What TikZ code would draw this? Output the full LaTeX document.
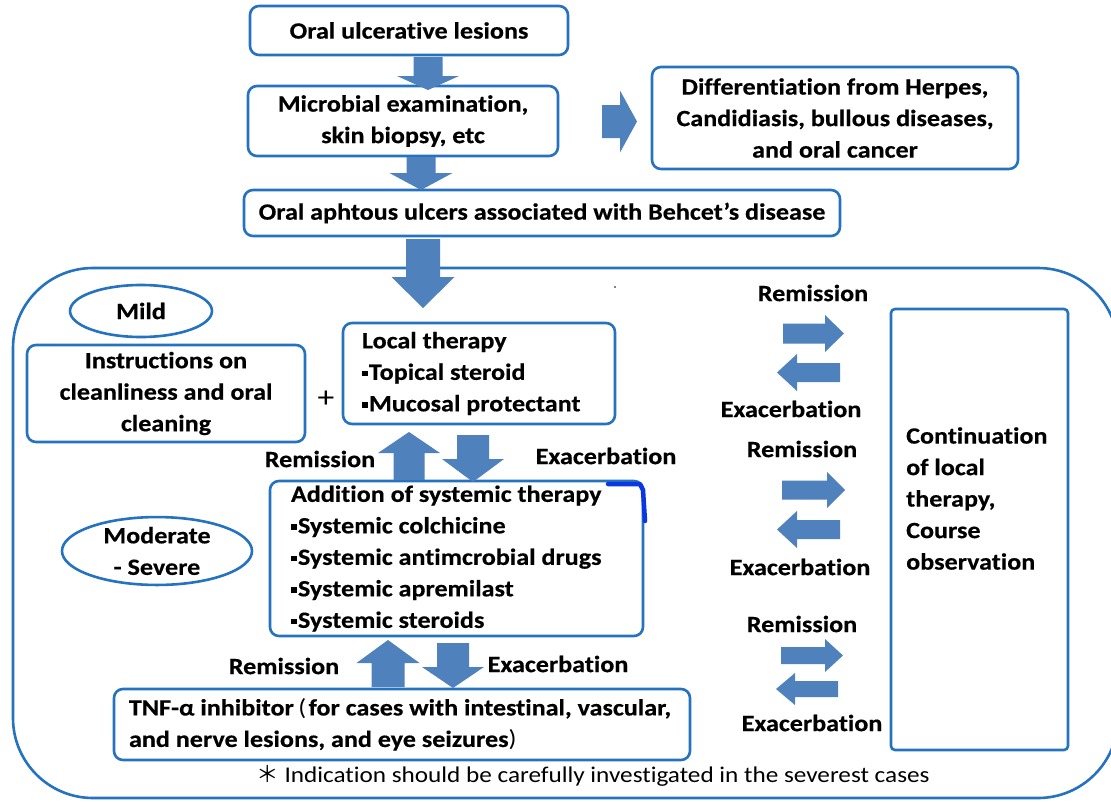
\documentclass[tikz,border=0pt]{standalone}
\usepackage{fontspec}
\setmainfont{Carlito}[FakeStretch=1.12, Ligatures=NoCommon, BoldFeatures={FakeBold=0.4}]
\newfontfamily\cjk{Noto Sans CJK JP}
\usetikzlibrary{shapes.geometric}
\definecolor{bord}{RGB}{36,114,192}
\definecolor{arr}{RGB}{79,129,189}
\definecolor{penmark}{RGB}{10,55,225}
\newcommand\fs{\fontsize{23.3}{31.5}\selectfont}
\newcommand\sqb{\raisebox{0.3ex}{\rule{0.24em}{0.24em}}\hspace{0.06em}}
% vertical block arrow: cx, y tail, y head base, y tip, shaft half width, head half width
\newcommand\vArrow[6]{\fill[arr] ({#1-#5},#2) -- ({#1+#5},#2) -- ({#1+#5},#3) -- ({#1+#6},#3) -- (#1,#4) -- ({#1-#6},#3) -- ({#1-#5},#3) -- cycle;}
% horizontal block arrow: cy, x tail, x head base, x tip, shaft half width, head half width
\newcommand\hArrow[6]{\fill[arr] (#2,{#1-#5}) -- (#2,{#1+#5}) -- (#3,{#1+#5}) -- (#3,{#1+#6}) -- (#4,#1) -- (#3,{#1-#6}) -- (#3,{#1-#5}) -- cycle;}
\tikzset{
  box/.style={draw=bord, line width=2.6pt, rounded corners=9pt, fill=white,
    font=\bfseries\fs, align=center, inner sep=0pt},
  lbox/.style={box, align=flush left},
  oval/.style={ellipse, draw=bord, line width=2.6pt, fill=white,
    font=\bfseries\fs, align=center, inner sep=0pt},
  lbl/.style={font=\bfseries\fs, inner sep=0pt},
}
\begin{document}
\begin{tikzpicture}[x=1pt,y=-1pt]
\useasboundingbox (0,0) rectangle (1111,801);
\clip (0,0) rectangle (1111,801);
\fill[white] (0,0) rectangle (1111,801);
% container
\draw[bord, line width=2.6pt, rounded corners=80pt] (13,268) rectangle (1118,798);
% top boxes
\node[box, minimum width=318pt, minimum height=49pt] (b1) at (409,30.5) {Oral ulcerative lesions};
\node[box, minimum width=310pt, minimum height=70pt] (b2) at (403,121) {Microbial examination,\\skin biopsy, etc};
\node[box, minimum width=596pt, minimum height=46pt] (b3) at (542,213) {Oral aphtous ulcers associated with Behcet’s disease};
\node[box, minimum width=366pt, minimum height=102pt] (b4) at (835,118) {Differentiation from Herpes,\\Candidiasis, bullous diseases,\\and oral cancer};
% mild
\node[oval, minimum width=142pt, minimum height=52pt] (mild) at (141,311) {Mild};
\node[box, minimum width=278pt, minimum height=97pt] (instr) at (166,393.5) {Instructions on\\cleanliness and oral\\cleaning};
\node[font=\fontsize{30}{30}\selectfont, inner sep=0pt] (plus) at (326,399) {+};
\node[lbox, text width=234pt, inner xsep=19pt, minimum height=101pt] (local) at (479,373.5) {Local therapy\\\sqb Topical steroid\\\sqb Mucosal protectant};
% moderate
\node[oval, minimum width=190pt, minimum height=67pt] (mod) at (157,551) {Moderate\\- Severe};
\node[lbox, text width=331pt, inner xsep=21pt, minimum height=155pt] (sys) at (456.5,558.5) {Addition of systemic therapy\\\sqb Systemic colchicine\\\sqb Systemic antimcrobial drugs\\\sqb Systemic apremilast\\\sqb Systemic steroids};
\node[lbox, text width=546pt, inner xsep=15pt, minimum height=71pt] (tnf) at (402,724.5) {TNF-α inhibitor{\mdseries\kern0.2em(}\kern0.1em for cases with intestinal, vascular,\\and nerve lesions, and eye seizures{\mdseries )}};
\node[font=\fontsize{22.5}{24}\selectfont, inner sep=0pt] (note) at (593,776) {{\cjk ＊}\kern0.25em Indication should be carefully investigated in the severest cases};
% continuation box
\node[draw=bord, line width=2.6pt, rounded corners=4pt, minimum width=177pt, minimum height=441pt, inner sep=0pt] (cont) at (979.5,529.5) {};
\node[lbl, align=flush left, anchor=west] (contt) at (906,498.5) {Continuation\\of local\\therapy,\\Course\\observation};
% pen mark
\draw[penmark, line width=4.5pt, line cap=round, line join=round] (608,484) -- (640,484) -- (643,490) -- (645,521);
\fill[black] (615,287) circle (0.8pt);
% labels
\node[lbl] (r1) at (320,459) {Remission};
\node[lbl] (e1) at (606,456) {Exacerbation};
\node[lbl] (r2) at (284,666) {Remission};
\node[lbl] (e2) at (558,664) {Exacerbation};
\node[lbl] (rr1) at (813,293) {Remission};
\node[lbl] (re1) at (791,409) {Exacerbation};
\node[lbl] (rr2) at (802,449) {Remission};
\node[lbl] (re2) at (800,567) {Exacerbation};
\node[lbl] (rr3) at (802,624) {Remission};
\node[lbl] (re3) at (812,723) {Exacerbation};
% block arrows
\vArrow{428}{57}{76}{90}{14.5}{31}
\vArrow{421}{157}{173}{190}{14.5}{31.5}
\vArrow{423}{239}{277}{308}{17}{31.5}
\hArrow{121.5}{602}{620}{637}{16.5}{31}
\vArrow{409}{480}{453}{432}{15.5}{31}
\vArrow{473}{435}{459}{482}{16}{31}
\vArrow{388}{687}{663}{640}{16.5}{31.5}
\vArrow{453}{643}{667}{688}{16}{31}
\hArrow{333.5}{783}{825}{844}{10}{18.5}
\hArrow{372.5}{840}{797}{777}{9.5}{18.5}
\hArrow{490}{782}{827}{845}{9.5}{18}
\hArrow{529.5}{840}{797}{777}{9.5}{18.5}
\hArrow{655.5}{781}{825}{843}{8.5}{16.5}
\hArrow{689}{838}{795}{776}{8}{16}
\end{tikzpicture}
\end{document}
